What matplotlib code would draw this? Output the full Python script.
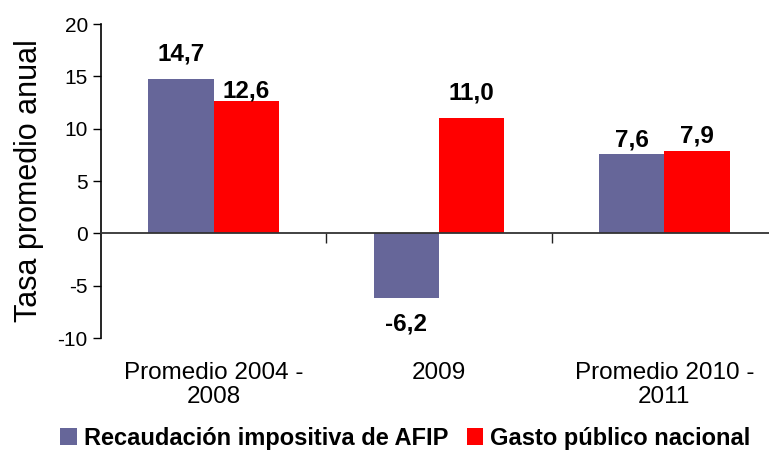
import numpy as np
import matplotlib.pyplot as plt
from matplotlib.transforms import blended_transform_factory

plt.rcParams['font.family'] = ['Liberation Sans', 'DejaVu Sans']
plt.rcParams['axes.unicode_minus'] = False

# data
categories = ["Promedio 2004 -\n2008", "2009", "Promedio 2010 -\n2011"]
recaudacion = [14.7, -6.2, 7.6]
gasto = [12.6, 11.0, 7.9]
series_names = ["Recaudación impositiva de AFIP", "Gasto público nacional"]
colors = ["#666699", "#FF0000"]

x = np.arange(len(categories))
w = 0.29

fig = plt.figure(figsize=(7.69, 4.54), dpi=100)
ax = fig.add_axes([0.1313, 0.2555, 0.879, 0.6916])

b1 = ax.bar(x - w / 2, recaudacion, w, color=colors[0], label=series_names[0])
b2 = ax.bar(x + w / 2, gasto, w, color=colors[1], label=series_names[1])

ax.set_xlim(-0.5, 2.5)
ax.set_ylim(-10, 20)
ax.set_yticks(range(-10, 21, 5))
ax.tick_params(axis='y', labelsize=15, length=6, width=1, direction='out')
ax.set_ylabel("Tasa promedio anual", fontsize=22, labelpad=10)

# x axis at zero, ticks between groups
ax.spines['bottom'].set_position(('data', 0))
ax.spines['bottom'].set_color('#333333')
ax.spines['bottom'].set_linewidth(1.3)
ax.spines['top'].set_visible(False)
ax.spines['right'].set_visible(False)
ax.spines['left'].set_linewidth(1.2)
ax.set_xticks([0.5, 1.5])
ax.set_xticklabels([])
ax.tick_params(axis='x', length=7, width=1, direction='out', color='#222222')

# category labels below the plot
tr = blended_transform_factory(ax.transData, ax.transAxes)
for xi, lab in zip(x, categories):
    ax.text(xi, -0.075, lab, transform=tr, ha='center', va='top',
            fontsize=17.5, linespacing=1.15)

# value labels
def fmt(v):
    return f"{v:.1f}".replace('.', ',')

for bars, vals, extra in [(b1, recaudacion, [10, 10, 2]), (b2, gasto, [-1, 10, 2])]:
    for rect, v, off in zip(bars, vals, extra):
        cx = rect.get_x() + rect.get_width() / 2
        if v >= 0:
            ax.annotate(fmt(v), (cx, v), xytext=(0, off), textcoords='offset points',
                        ha='center', va='bottom', fontsize=17.5, fontweight='bold')
        else:
            ax.annotate(fmt(v), (cx, v), xytext=(0, -10), textcoords='offset points',
                        ha='center', va='top', fontsize=17.5, fontweight='bold')

fig.legend(loc='center left', bbox_to_anchor=(0.078, 0.035), ncol=2, frameon=False,
           prop={'size': 17, 'weight': 'bold'}, handlelength=0.7, handleheight=0.7,
           handletextpad=0.3, columnspacing=0.8, borderaxespad=0, borderpad=0)

fig.savefig("out.png", dpi=100)
